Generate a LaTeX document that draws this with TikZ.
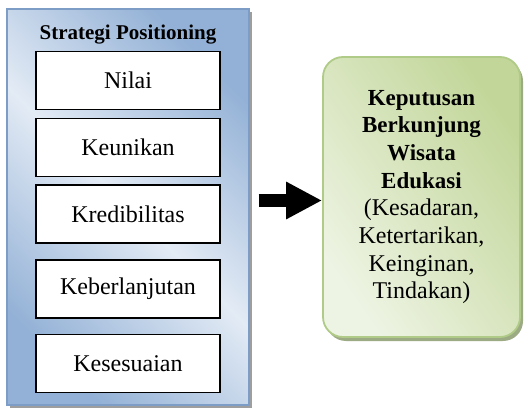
\documentclass[tikz,border=0pt]{standalone}
\usepackage{fontspec}
\setmainfont{Liberation Serif}
\usetikzlibrary{positioning,shadows,arrows.meta}
\definecolor{birutua}{HTML}{93B1D6}
\definecolor{birumuda}{HTML}{E3EBF5}
\definecolor{birugaris}{HTML}{7E9DC6}
\definecolor{hijautua}{HTML}{C2D699}
\definecolor{hijaumuda}{HTML}{EEF4E4}
\definecolor{hijaugaris}{HTML}{B0CB87}
\definecolor{hijaubayang}{HTML}{9CAB83}
\newcommand{\tebal}[1]{{\bfseries\fontsize{23}{27.7}\selectfont #1}}
\begin{document}
\begin{tikzpicture}[x=1pt,y=1pt,
		wadah/.style={draw=birugaris,line width=1.2pt,top color=birutua,bottom color=birutua,middle color=birumuda,shading angle=-45,
			minimum width=242pt,minimum height=396pt,inner sep=0pt,
			drop shadow={shadow xshift=3pt,shadow yshift=-3pt,fill=black!38,opacity=1}},
		kotak/.style={draw,line width=1.3pt,fill=white,minimum width=184pt,minimum height=58pt,inner sep=0pt,font=\fontsize{24}{27}\selectfont},
		tujuan/.style={draw=hijaugaris,line width=1.8pt,rounded corners=20pt,top color=hijautua,bottom color=hijaumuda,shading angle=-55,
			minimum width=197pt,minimum height=280pt,inner sep=0pt,align=center,font=\fontsize{24}{27.7}\selectfont,
			drop shadow={shadow xshift=3pt,shadow yshift=-4pt,fill=hijaubayang,opacity=1}},
		panah/.style={line width=12pt,-{Triangle[length=36pt,width=35pt]},shorten <=9pt}]
	\useasboundingbox (0,0) rectangle (524,410);
	% kotak strategi
	\node[wadah] (strategi) at (128,203) {};
	\node[font=\bfseries\fontsize{21}{25}\selectfont,anchor=base] (judul) at (128,370) {Strategi Positioning};
	\node[kotak] (nilai) at (128,329.5) {Nilai};
	\node[kotak,below=7.5pt of nilai] (keunikan) {Keunikan};
	\node[kotak,below=7.5pt of keunikan] (kredibilitas) {Kredibilitas};
	\node[kotak,below=15.5pt of kredibilitas] (keberlanjutan) {Keberlanjutan};
	\node[kotak,below=15.5pt of keberlanjutan] (kesesuaian) {Kesesuaian};
	% keputusan
	\node[tujuan] (keputusan) at (421.5,213) {\tebal{Keputusan}\\\tebal{Berkunjung}\\\tebal{Wisata}\\\tebal{Edukasi}\\(Kesadaran,\\Ketertarikan,\\Keinginan,\\Tindakan)};
	\draw[panah] (strategi.east |- 0,209.5) -- (keputusan.west |- 0,209.5);
\end{tikzpicture}
\end{document}
